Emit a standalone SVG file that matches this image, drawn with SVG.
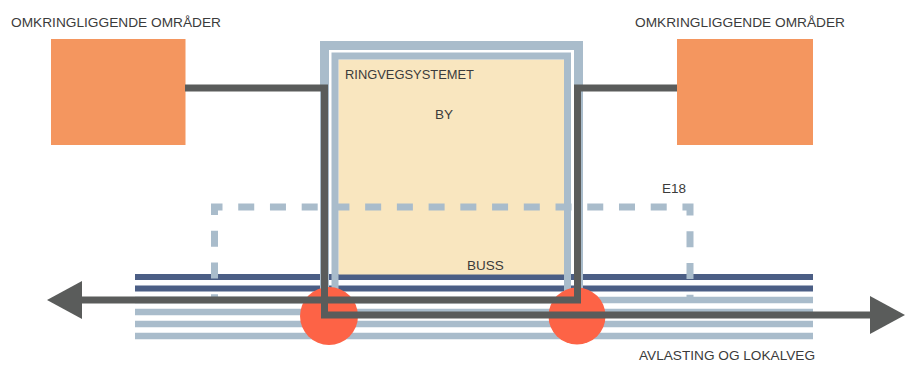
<svg xmlns="http://www.w3.org/2000/svg" width="906" height="367" viewBox="0 0 906 367">
  <defs>
    <style>
      .lbl { font-family: "Liberation Sans", Arial, sans-serif; font-size: 13.5px; fill: #3b3b3b; }
      .area { fill: #f4965f; }
      .frame { fill: none; stroke: #a9bccb; }
      .road-main { stroke: #4b5e85; stroke-width: 6; }
      .road-local { stroke: #a9bccb; stroke-width: 6.5; }
      .hub { fill: #fd6346; }
      .link { fill: none; stroke: #5a5c5b; stroke-width: 7; stroke-linejoin: miter; }
      .e18 { fill: none; stroke: #a9bccb; stroke-width: 7; stroke-dasharray: 16 15.73; stroke-dashoffset: 13.19; }
    </style>
    <marker id="head" viewBox="0 0 35 38" markerWidth="35" markerHeight="38" refX="1" refY="19" orient="auto" markerUnits="userSpaceOnUse">
      <path d="M0,0 L35,19 L0,38 Z" fill="#5a5c5b"/>
    </marker>
  </defs>

  <rect width="906" height="367" fill="#ffffff"/>

  <!-- surrounding areas -->
  <g id="area-left">
    <rect class="area" x="51" y="39" width="134.5" height="106"/>
    <text class="lbl" x="11" y="27" textLength="210" lengthAdjust="spacingAndGlyphs">OMKRINGLIGGENDE OMRÅDER</text>
  </g>
  <g id="area-right">
    <rect class="area" x="677" y="39" width="136" height="106"/>
    <text class="lbl" x="635" y="27" textLength="210" lengthAdjust="spacingAndGlyphs">OMKRINGLIGGENDE OMRÅDER</text>
  </g>

  <!-- road bundle: bus lanes and relief/local roads -->
  <g id="road-bundle">
    <line class="road-main" x1="135" y1="277" x2="813" y2="277"/>
    <line class="road-main" x1="135" y1="288.5" x2="813" y2="288.5"/>
    <line class="road-local" x1="135" y1="300" x2="813" y2="300"/>
    <line class="road-local" x1="135" y1="312" x2="813" y2="312"/>
    <line class="road-local" x1="135" y1="324" x2="813" y2="324"/>
    <line class="road-local" x1="135" y1="336" x2="813" y2="336"/>
    <text class="lbl" x="639" y="360" textLength="176" lengthAdjust="spacingAndGlyphs">AVLASTING OG LOKALVEG</text>
  </g>

  <!-- city inside the ring road system -->
  <g id="ring-system">
    <rect x="338.5" y="59.5" width="225.5" height="215" fill="#f9e6bf"/>
    <path class="frame" stroke-width="9" d="M324.5,292 V45.5 H578.5 V292"/>
    <path class="frame" stroke-width="7" d="M335,292 V56 H567.5 V292"/>
    <text class="lbl" x="345" y="79" textLength="129" lengthAdjust="spacingAndGlyphs">RINGVEGSYSTEMET</text>
    <text class="lbl" x="435" y="119">BY</text>
    <text class="lbl" x="467" y="270">BUSS</text>
  </g>

  <!-- E18 corridor -->
  <g id="e18">
    <path class="e18" d="M214.5,297 V207 H690 V297"/>
    <text class="lbl" x="662" y="193">E18</text>
  </g>

  <!-- interchanges -->
  <g id="interchange-west">
    <circle class="hub" cx="329" cy="316" r="29"/>
  </g>
  <g id="interchange-east">
    <circle class="hub" cx="577" cy="316" r="28.5"/>
  </g>

  <!-- through traffic connectors -->
  <g id="connectors">
    <path class="link" d="M185,88 H324.5 V315 H871" marker-end="url(#head)"/>
    <path class="link" d="M677,88 H577.5 V300 H81" marker-end="url(#head)"/>
  </g>
</svg>
